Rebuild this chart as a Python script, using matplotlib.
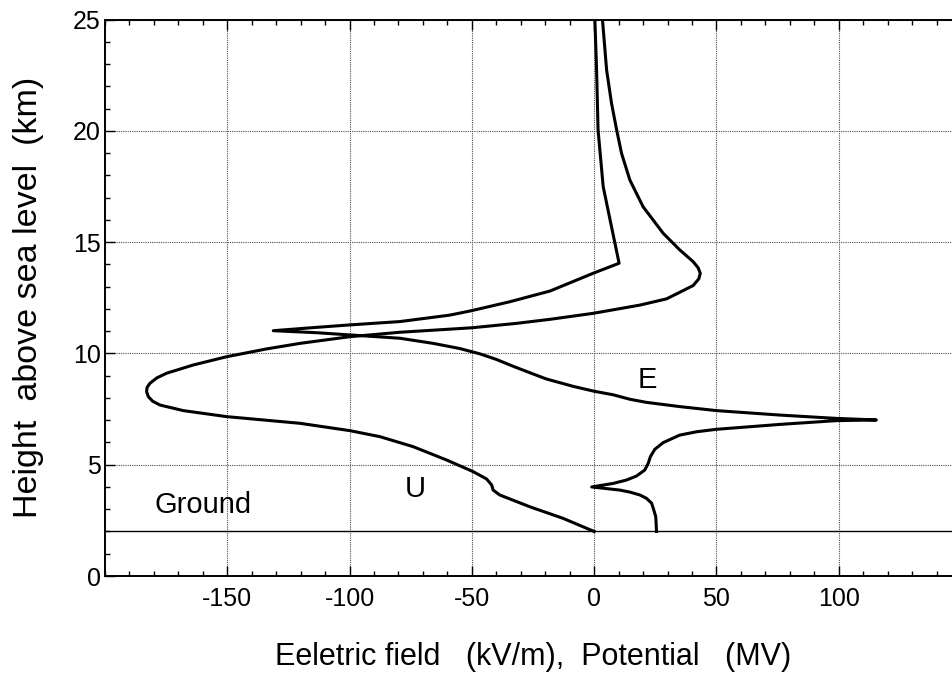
import matplotlib
matplotlib.use("Agg")
import matplotlib.pyplot as plt
from matplotlib.ticker import MultipleLocator

plt.rcParams["font.family"] = ["Liberation Sans", "DejaVu Sans"]
plt.rcParams["axes.unicode_minus"] = False

# electric field E (kV/m) along height (km)
E_field = [25.5, 25.2, 24.4, 23.5, 21.4, 18.7, 14.6, 10.5, -1.0, 7.8, 13.2, 17.3,
           20.7, 22.1, 23.0, 24.8, 28.2, 35.0, 41.9, 50.0, 75.9, 99.1, 115.4,
           99.1, 75.9, 50.0, 35.0, 21.4, 14.6, 7.8, 0.0, -8.6, -19.5, -26.0, -33.1,
           -40.0, -46.7, -55.0, -65.8, -79.4, -93.0, -99.9, -113.5, -131.2, -113.5,
           -99.9, -79.4, -59.0, -50.1, -34.5, -18.1, -0.4, 10.2, 7.1, 3.7, 1.6, 1.0, 0.3]
E_height = [2.0, 2.66, 2.96, 3.27, 3.49, 3.64, 3.77, 3.86, 4.0, 4.16, 4.31, 4.49,
            4.76, 5.06, 5.36, 5.69, 5.99, 6.33, 6.48, 6.59, 6.81, 6.98, 7.01,
            7.08, 7.23, 7.43, 7.61, 7.80, 7.94, 8.14, 8.30, 8.52, 8.85, 9.12, 9.42,
            9.73, 9.98, 10.22, 10.45, 10.68, 10.78, 10.83, 10.93, 11.02, 11.17,
            11.28, 11.43, 11.72, 11.92, 12.32, 12.80, 13.6, 14.05, 15.69, 17.49, 20.04, 22.73, 25.0]

# potential U (MV) along height (km)
U_pot = [0.0, -12.7, -26.3, -38.6, -41.3, -41.9, -44.0, -49.5, -60.3, -74.0, -87.6,
         -99.9, -120.3, -150.3, -168.0, -177.5, -180.5, -182.3, -183.0, -182.8, -181.6,
         -178.8, -174.8, -163.9, -150.3, -134.0, -120.3, -99.9, -79.4, -50.1, -31.7,
         -18.1, -0.4, 18.7, 29.6, 36.0, 40.5, 42.8, 43.4, 42.5, 40.5, 35.0, 28.2,
         20.0, 14.6, 11.2, 9.2, 7.1, 5.1, 3.4]
U_height = [2.0, 2.59, 3.11, 3.64, 3.86, 4.09, 4.36, 4.69, 5.21, 5.81, 6.26,
            6.53, 6.86, 7.16, 7.43, 7.68, 7.85, 8.06, 8.28, 8.47, 8.66,
            8.90, 9.11, 9.48, 9.85, 10.2, 10.45, 10.75, 10.95, 11.15, 11.35,
            11.53, 11.80, 12.17, 12.45, 12.80, 13.05, 13.35, 13.6, 13.85, 14.12, 14.65, 15.4,
            16.59, 17.79, 18.99, 20.04, 21.24, 22.73, 25.0]

ground_height = 2.0

fig = plt.figure(figsize=(9.53, 6.77), dpi=100)
ax = fig.add_axes([105 / 953, 101 / 677, 856 / 953, 556.5 / 677])

ax.plot(E_field, E_height, color="black", lw=2.2, solid_joinstyle="round")
ax.plot(U_pot, U_height, color="black", lw=2.2, solid_joinstyle="round")
ax.axhline(ground_height, color="black", lw=1.0)

ax.set_xlim(-200, 150)
ax.set_ylim(0, 25)
ax.set_xticks([-150, -100, -50, 0, 50, 100])
ax.set_yticks([0, 5, 10, 15, 20, 25])
ax.xaxis.set_minor_locator(MultipleLocator(10))
ax.yaxis.set_minor_locator(MultipleLocator(1))
ax.tick_params(which="both", direction="in", top=True, right=False, width=1.0)
ax.tick_params(which="major", length=7, labelsize=18)
ax.tick_params(which="minor", length=3.6)
ax.tick_params(axis="x", pad=8)
ax.tick_params(axis="y", pad=3)
ax.grid(True, which="major", color="0.3", linestyle=(0, (1, 1)), lw=0.8)

for side in ["left", "bottom", "top"]:
    ax.spines[side].set_linewidth(1.4)
ax.spines["right"].set_visible(False)

ax.text(-160, 3.17, "Ground", fontsize=21, ha="center", va="center")
ax.text(-73.3, 3.91, "U", fontsize=21, ha="center", va="center")
ax.text(21.8, 8.8, "E", fontsize=21, ha="center", va="center")

ax.set_xlabel("Eeletric field   (kV/m),  Potential   (MV)", fontsize=22, labelpad=22)
ax.set_ylabel("Height  above sea level  (km)", fontsize=24.5, labelpad=21)

fig.savefig("out.png", dpi=100)
